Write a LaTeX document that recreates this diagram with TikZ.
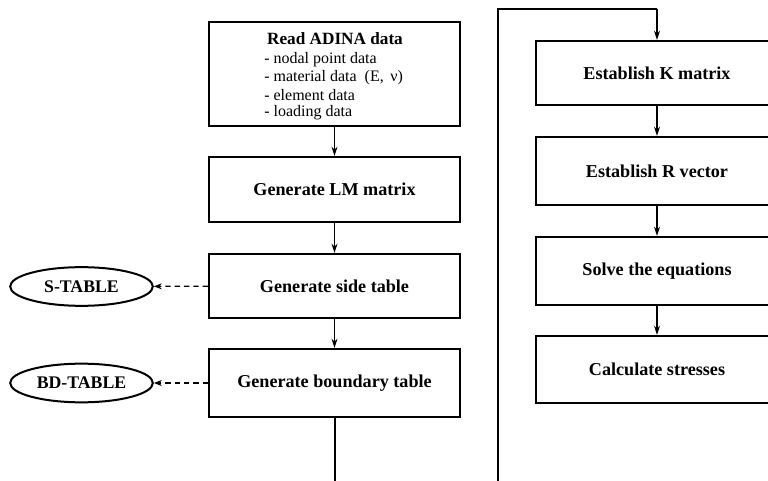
\documentclass[tikz,border=0pt]{standalone}
\usepackage{fontspec}
\setmainfont{Liberation Serif}
\usetikzlibrary{arrows.meta,shapes.geometric}
\begin{document}
\begin{tikzpicture}[x=0.75pt,y=-0.75pt,
  box/.style={draw,line width=1.6pt,rectangle,inner sep=0pt,minimum width=188.25pt,
    font=\fontsize{13.6}{15}\selectfont\bfseries},
  rbox/.style={box,minimum width=181.5pt},
  tbl/.style={draw,line width=1.5pt,ellipse,inner sep=0pt,minimum width=107pt,minimum height=29pt,
    font=\fontsize{13.3}{15}\selectfont\bfseries},
  item/.style={anchor=west,inner sep=0pt,font=\fontsize{12}{14}\selectfont},
  flow/.style={line width=1pt,-{Stealth[length=7pt,width=4.5pt]}},
  thick line/.style={line width=1.5pt},
  dash arrow/.style={line width=0.9pt,dash pattern=on 4pt off 3pt,-{Stealth[length=6pt,width=4.5pt]}}]
\clip (0,0) rectangle (768,481);
% left column
\node[box,minimum height=78pt] (adina) at (334.5,74) {};
\node[inner sep=0pt,font=\fontsize{12.9}{15}\selectfont\bfseries] (title) at (335,39) {Read ADINA data};
\node[item] (i1) at (264,60) {- nodal point data};
\node[item] (i2) at (264,77.5) {- material data\ \ (E,\ \,ν)};
\node[item] (i3) at (264,95) {- element data};
\node[item] (i4) at (264,112.5) {- loading data};
\node[box,minimum height=48.75pt] (lm) at (334.5,189.5) {Generate LM matrix};
\node[box,minimum height=48pt] (side) at (334.5,286) {Generate side table};
\node[box,minimum height=51pt] (bound) at (334.5,383) {Generate boundary table};
\node[tbl] (stab) at (81.5,286.5) {S-TABLE};
\node[tbl] (bdtab) at (81.5,383) {BD-TABLE};
\coordinate (lend) at (334.5,481);
% right column
\node[rbox,minimum height=48pt] (kmat) at (657,73) {Establish K matrix};
\node[rbox,minimum height=51pt] (rvec) at (657,171) {Establish R vector};
\node[rbox,minimum height=51pt] (solve) at (657,271) {Solve the equations};
\node[rbox,minimum height=50.25pt] (calc) at (657,369.5) {Calculate stresses};
\coordinate (rstart) at (497.5,481);
\coordinate (rtop) at (497.5,9);
\coordinate (ktop) at (657,9);
% connectors
\draw[flow] (adina) -- (lm);
\draw[flow] (lm) -- (side);
\draw[flow] (side) -- (bound);
\draw[thick line] (bound) -- (lend);
\draw[dash arrow] (side) -- (stab);
\draw[dash arrow] (bound) -- (bdtab);
\draw[thick line] (rstart) -- (rtop) -- (ktop);
\draw[flow] (ktop) -- (kmat);
\draw[flow] (kmat) -- (rvec);
\draw[flow] (rvec) -- (solve);
\draw[flow] (solve) -- (calc);
\end{tikzpicture}
\end{document}
